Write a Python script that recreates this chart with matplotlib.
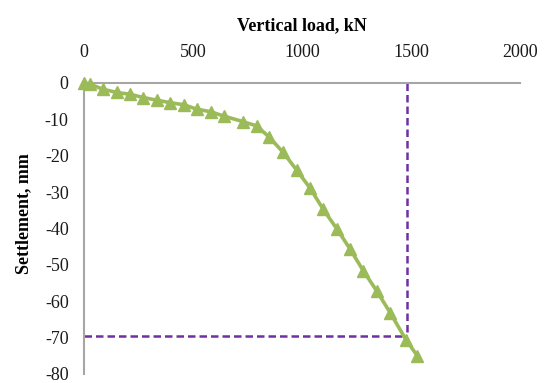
import matplotlib.pyplot as plt

plt.rcParams['font.family'] = ['Liberation Serif', 'DejaVu Serif']
plt.rcParams['axes.unicode_minus'] = False

# load (kN) and settlement (mm)
load = [0, 27, 86, 150, 211, 272, 333, 394, 459, 517, 581, 642, 728, 792,
        850, 914, 975, 1037, 1096, 1161, 1220, 1281, 1342, 1404, 1477, 1529]
settle = [0, -0.3, -1.7, -2.6, -3.1, -4.0, -4.7, -5.4, -6.0, -7.2, -7.9, -9.1,
          -10.6, -11.8, -14.9, -19.1, -23.9, -28.9, -34.6, -40.2, -45.6,
          -51.6, -57.1, -63.1, -70.6, -75.0]

# ultimate load marker lines
ult_load = 1483
ult_settle = -69.6

xticks = [0, 500, 1000, 1500, 2000]
yticks = [0, -10, -20, -30, -40, -50, -60, -70, -80]

fig = plt.figure(figsize=(5.46, 3.83), dpi=100)
ax = fig.add_axes([0.1538, 0.0235, 0.7986, 0.7598])

ax.plot(load, settle, color='#9BBB59', lw=2.6, marker='^', markersize=9,
        markeredgecolor='#9BBB59', markerfacecolor='#9BBB59', zorder=3)

ax.plot([ult_load, ult_load], [0, ult_settle], color='#7030A0', lw=1.8,
        ls=(0, (3, 1.6)), zorder=2)
ax.plot([0, ult_load], [ult_settle, ult_settle], color='#7030A0', lw=1.8,
        ls=(0, (3, 1.6)), zorder=2)

ax.set_xlim(0, 2000)
ax.set_ylim(-80, 0)
ax.set_xticks(xticks)
ax.set_yticks(yticks)
ax.xaxis.tick_top()
ax.xaxis.set_label_position('top')
ax.tick_params(axis='x', length=0, pad=16, labelsize=13, colors='#1a1a1a')
ax.tick_params(axis='y', length=0, pad=11, labelsize=13, colors='#1a1a1a')

for s in ['right', 'bottom']:
    ax.spines[s].set_visible(False)
for s in ['left', 'top']:
    ax.spines[s].set_color('#a6a6a6')
    ax.spines[s].set_linewidth(1.5)

ax.set_xlabel('Vertical load, kN', fontsize=13, fontweight='bold', labelpad=10)
ax.set_ylabel('Settlement, mm', fontsize=13, fontweight='bold')
ax.yaxis.set_label_coords(-0.119, 0.55)

for l in ax.lines:
    l.set_clip_on(False)

fig.savefig('out.png', dpi=100)
